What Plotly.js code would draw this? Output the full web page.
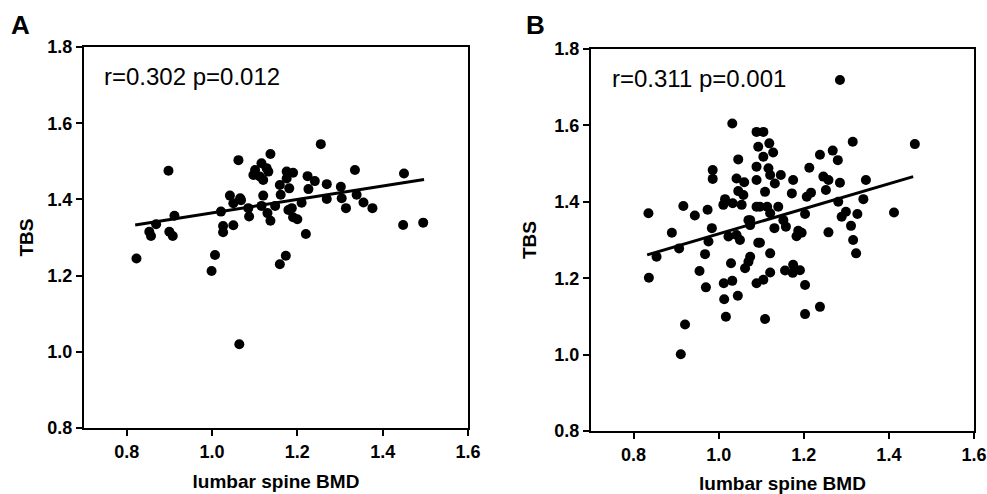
<!DOCTYPE html>
<html>
<head>
<meta charset="utf-8">
<script src="https://cdn.plot.ly/plotly-3.0.1.min.js"></script>
<style>html,body{margin:0;padding:0;background:#fff}#chart{width:987px;height:494px}</style>
</head>
<body>
<div id="chart"></div>
<script>
// Panel A data (lumbar spine BMD vs TBS)
const bmdA = [0.823,0.898,0.869,0.853,0.857,0.912,0.900,0.908,1.007,0.999,1.021,1.026,1.026,1.050,1.042,1.050,1.066,1.068,1.062,1.087,1.085,1.116,1.120,1.130,1.137,1.137,1.101,1.116,1.128,1.097,1.112,1.120,1.132,1.159,1.173,1.255,1.175,1.190,1.175,1.224,1.241,1.226,1.159,1.181,1.161,1.269,1.302,1.335,1.269,1.304,1.339,1.355,1.376,1.314,1.210,1.148,1.179,1.187,1.190,1.200,1.220,1.450,1.448,1.495,1.064];
const tbsA = [1.245,1.475,1.335,1.315,1.304,1.357,1.315,1.304,1.254,1.212,1.368,1.330,1.314,1.332,1.410,1.390,1.403,1.398,1.503,1.355,1.377,1.383,1.410,1.364,1.344,1.519,1.477,1.495,1.482,1.464,1.460,1.451,1.473,1.230,1.252,1.545,1.473,1.470,1.455,1.461,1.448,1.427,1.438,1.429,1.412,1.440,1.433,1.477,1.401,1.403,1.412,1.392,1.377,1.377,1.391,1.383,1.372,1.377,1.353,1.348,1.309,1.468,1.333,1.339,1.020];
const fitXA = [0.820, 1.497];
const fitYA = [1.333, 1.452];

// Panel B data
const bmdB = [1.032,1.089,1.093,1.046,0.986,0.986,1.089,1.042,1.060,1.089,1.046,1.058,1.015,1.011,1.033,1.054,1.089,0.835,0.917,0.944,0.974,0.890,0.984,1.074,1.023,1.042,1.050,1.093,0.968,0.976,0.907,0.854,
  0.836,0.921,0.911,0.955,0.970,1.029,1.012,1.032,1.013,1.017,1.045,1.062,1.070,1.074,1.089,
  1.285,1.105,1.119,1.128,1.105,1.315,1.461,1.238,1.268,1.280,1.213,1.117,1.121,1.146,1.132,1.175,1.246,1.258,1.285,1.346,1.109,1.172,1.252,1.207,1.217,1.340,1.281,1.097,1.114,1.121,1.140,1.203,1.289,1.299,1.326,1.412,1.070,1.074,1.152,1.158,1.131,1.311,1.258,1.187,1.195,1.183,1.316,1.097,1.323,1.121,
  1.121,1.156,1.175,1.174,1.191,1.105,1.203,1.238,1.203,1.109];
const tbsB = [1.605,1.583,1.544,1.511,1.483,1.460,1.492,1.461,1.451,1.457,1.428,1.418,1.407,1.392,1.396,1.392,1.387,1.370,1.389,1.364,1.379,1.319,1.331,1.352,1.309,1.313,1.300,1.293,1.263,1.296,1.278,1.256,
  1.201,1.079,1.001,1.219,1.176,1.239,1.187,1.193,1.145,1.099,1.154,1.226,1.243,1.256,1.187,
  1.719,1.583,1.553,1.529,1.518,1.557,1.551,1.523,1.534,1.509,1.489,1.488,1.470,1.470,1.448,1.457,1.466,1.457,1.450,1.457,1.426,1.422,1.431,1.413,1.424,1.407,1.400,1.387,1.387,1.370,1.387,1.368,1.361,1.374,1.368,1.372,1.352,1.339,1.352,1.335,1.331,1.337,1.320,1.324,1.319,1.310,1.300,1.293,1.265,1.265,
  1.215,1.220,1.235,1.214,1.221,1.196,1.182,1.125,1.106,1.093];
const fitXB = [0.832, 1.457];
const fitYB = [1.261, 1.466];

const xTicks = [0.8, 1.0, 1.2, 1.4, 1.6];
const yTicks = [0.8, 1.0, 1.2, 1.4, 1.6, 1.8];
const xTitle = 'lumbar spine BMD';
const yTitle = 'TBS';
const statA = 'r=0.302 p=0.012';
const statB = 'r=0.311 p=0.001';

const FONT = 'Liberation Sans, Arial, sans-serif';
const marker = {color:'#000', size:10, symbol:'circle', line:{width:0}};

const traces = [
  {x:bmdA, y:tbsA, type:'scatter', mode:'markers', marker:marker, xaxis:'x', yaxis:'y', hoverinfo:'x+y'},
  {x:fitXA, y:fitYA, type:'scatter', mode:'lines', line:{color:'#000', width:3}, xaxis:'x', yaxis:'y'},
  {x:bmdB, y:tbsB, type:'scatter', mode:'markers', marker:marker, xaxis:'x2', yaxis:'y2', hoverinfo:'x+y'},
  {x:fitXB, y:fitYB, type:'scatter', mode:'lines', line:{color:'#000', width:3}, xaxis:'x2', yaxis:'y2'}
];

function xax(domain, anchor){
  return {domain:domain, anchor:anchor, range:[0.7,1.6], tickvals:xTicks, ticktext:xTicks.map(v=>v.toFixed(1)),
    ticks:'outside', ticklen:6, tickwidth:2, tickcolor:'#000', showline:true, linecolor:'#000', linewidth:2, mirror:true,
    showgrid:false, zeroline:false, tickfont:{family:FONT, size:18, color:'#000', weight:'bold'},
    title:{text:xTitle, font:{family:FONT, size:19, color:'#000', weight:'bold'}, standoff:14}};
}
function yax(domain, anchor, standoff){
  return {domain:domain, anchor:anchor, range:[0.8,1.8], tickvals:yTicks, ticktext:yTicks.map(v=>v.toFixed(1)),
    ticks:'outside', ticklen:6, tickwidth:2, tickcolor:'#000', showline:true, linecolor:'#000', linewidth:2, mirror:true,
    showgrid:false, zeroline:false, tickfont:{family:FONT, size:18, color:'#000', weight:'bold'},
    title:{text:yTitle, font:{family:FONT, size:19, color:'#000', weight:'bold'}, standoff:standoff}};
}

const W = 987, H = 494;
const layout = {
  width:W, height:H, margin:{l:0, r:0, t:0, b:0}, showlegend:false,
  paper_bgcolor:'#fff', plot_bgcolor:'#fff',
  xaxis: xax([84/W, 468/W], 'y'),
  yaxis: yax([(H-428)/H, (H-47)/H], 'x', 9),
  xaxis2: xax([591/W, 974/W], 'y2'),
  yaxis2: yax([(H-431)/H, (H-49)/H], 'x2', 13),
  annotations:[
    {text:'A', xref:'paper', yref:'paper', x:20/W, y:1-25/H, xanchor:'center', yanchor:'middle', showarrow:false, font:{family:FONT, size:26, color:'#000', weight:'bold'}},
    {text:'B', xref:'paper', yref:'paper', x:535/W, y:1-25/H, xanchor:'center', yanchor:'middle', showarrow:false, font:{family:FONT, size:26, color:'#000', weight:'bold'}},
    {text:statA, xref:'paper', yref:'paper', x:102/W, y:1-76/H, xanchor:'left', yanchor:'middle', showarrow:false, font:{family:FONT, size:24, color:'#000'}},
    {text:statB, xref:'paper', yref:'paper', x:610/W, y:1-78/H, xanchor:'left', yanchor:'middle', showarrow:false, font:{family:FONT, size:24, color:'#000'}}
  ]
};

Plotly.newPlot('chart', traces, layout, {staticPlot:true, displayModeBar:false});
</script>
</body>
</html>
